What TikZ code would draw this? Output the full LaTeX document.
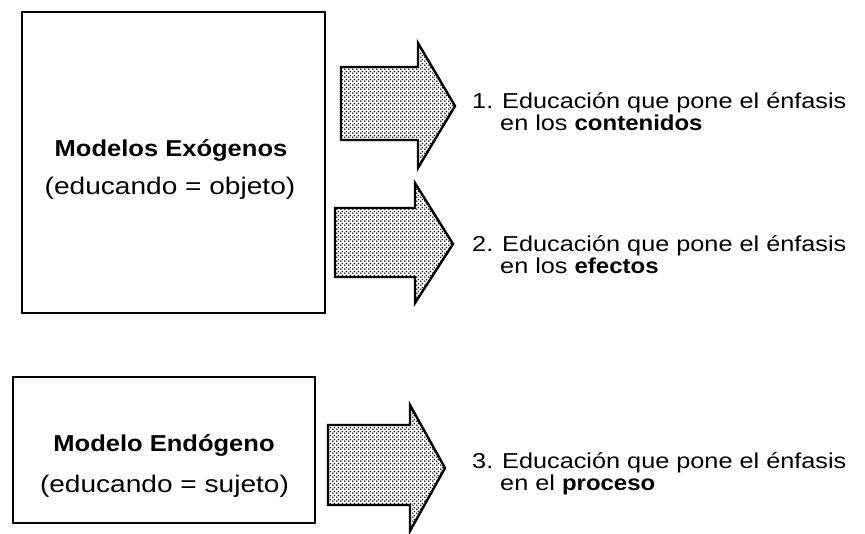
\documentclass[tikz,border=0pt]{standalone}
\usepackage{fontspec}
\setmainfont{Liberation Sans}[FakeStretch=1.17]
\newfontfamily\bd{Liberation Sans}[FakeStretch=1.11]
\usetikzlibrary{patterns}
\pgfdeclarepatternformonly{mydots}{\pgfqpoint{0pt}{0pt}}{\pgfqpoint{4pt}{4pt}}{\pgfqpoint{4pt}{4pt}}{%
  \pgfpathcircle{\pgfqpoint{1pt}{1pt}}{0.95pt}%
  \pgfpathcircle{\pgfqpoint{3pt}{3pt}}{0.95pt}%
  \pgfusepath{fill}}
\tikzset{
  modelbox/.style={draw=black, line width=2pt, rectangle, inner sep=0pt},
  blockarrow/.style={draw=black, line width=2.4pt, line join=miter, pattern=mydots, pattern color=black},
  title/.style={anchor=base, inner sep=0pt, font=\fontsize{23}{26}\selectfont\bd\bfseries},
  subtitle/.style={anchor=base, inner sep=0pt, font=\fontsize{24}{26}\selectfont},
  itemtext/.style={anchor=base west, inner sep=0pt, font=\fontsize{21.6}{23}\selectfont},
}
\newcommand{\bw}[1]{{\bd\bfseries #1}}
\begin{document}
\begin{tikzpicture}[x=1pt, y=-1pt]
\useasboundingbox (0,0) rectangle (865,534);
% boxes
\node[modelbox, minimum width=303pt, minimum height=301pt] (exo) at (173.5,162.5) {};
\node[modelbox, minimum width=302pt, minimum height=146pt] (endo) at (164,450) {};
% box texts
\node[title] (exoT) at (171,157) {Modelos Exógenos};
\node[subtitle] (exoS) at (170,195) {(educando = objeto)};
\node[title] (endoT) at (164,452) {Modelo Endógeno};
\node[subtitle] (endoS) at (164.5,492) {(educando = sujeto)};
% arrows
\draw[blockarrow] (341,67) -- (418,67) -- (418,43) -- (455,106) -- (418,168) -- (418,140) -- (341,140) -- cycle;
\draw[blockarrow] (335,208) -- (415,208) -- (415,183) -- (453,244) -- (415,303) -- (415,277) -- (335,277) -- cycle;
\draw[blockarrow] (328,425) -- (410,425) -- (410,405) -- (445,468) -- (410,531) -- (410,505) -- (328,505) -- cycle;
% item texts
\node[itemtext] (n1) at (472,109) {1.};
\node[itemtext] (i1a) at (502,109) {Educación que pone el énfasis};
\node[itemtext] (i1b) at (500,131) {en los \bw{contenidos}};
\node[itemtext] (n2) at (472,252) {2.};
\node[itemtext] (i2a) at (502,252) {Educación que pone el énfasis};
\node[itemtext] (i2b) at (500,274) {en los \bw{efectos}};
\node[itemtext] (n3) at (472,468) {3.};
\node[itemtext] (i3a) at (502,468) {Educación que pone el énfasis};
\node[itemtext] (i3b) at (500,490) {en el \bw{proceso}};
\end{tikzpicture}
\end{document}
